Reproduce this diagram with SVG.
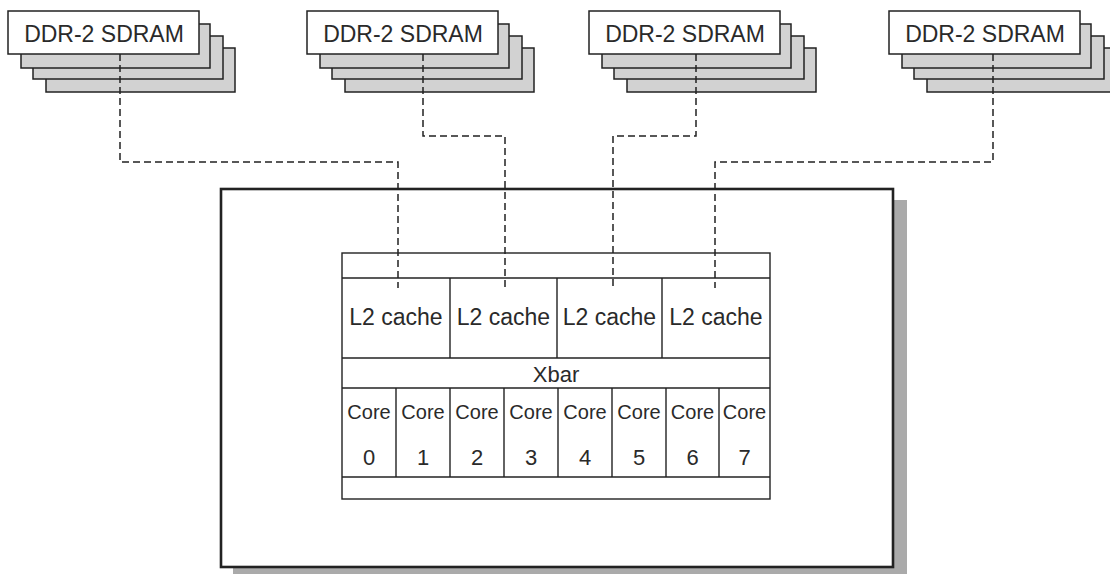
<svg xmlns="http://www.w3.org/2000/svg" width="1110" height="574" viewBox="0 0 1110 574">
<style>
.card{fill:#d2d2d2;stroke:#222;stroke-width:1.5}
.front{fill:#fff;stroke:#222;stroke-width:1.5}
.cell{fill:#fff;stroke:#222;stroke-width:1.4}
.ln{stroke:#222;stroke-width:1.4;fill:none}
.dash{stroke:#222;stroke-width:1.5;fill:none;stroke-dasharray:7,4}
text{font-family:"Liberation Sans",Arial,sans-serif;fill:#2a2a2a;text-anchor:middle}
.t23{font-size:23px}
.t20{font-size:20px}
.t22{font-size:22px}
</style>
<rect width="1110" height="574" fill="#fff"/>

<g id="sdram1">
<rect class="card" x="46" y="48" width="189" height="44"/>
<rect class="card" x="33" y="36" width="190" height="43"/>
<rect class="card" x="21" y="24" width="189" height="44"/>
<rect class="front" x="8" y="11" width="191" height="43"/>
<text class="t23" x="104" y="42">DDR-2 SDRAM</text>
</g>
<g id="sdram2">
<rect class="card" x="345" y="48" width="189" height="44"/>
<rect class="card" x="332" y="36" width="190" height="43"/>
<rect class="card" x="320" y="24" width="189" height="44"/>
<rect class="front" x="307" y="11" width="191" height="43"/>
<text class="t23" x="403" y="42">DDR-2 SDRAM</text>
</g>
<g id="sdram3">
<rect class="card" x="627" y="48" width="189" height="44"/>
<rect class="card" x="614" y="36" width="190" height="43"/>
<rect class="card" x="602" y="24" width="189" height="44"/>
<rect class="front" x="589" y="11" width="191" height="43"/>
<text class="t23" x="685" y="42">DDR-2 SDRAM</text>
</g>
<g id="sdram4">
<rect class="card" x="927" y="48" width="189" height="44"/>
<rect class="card" x="914" y="36" width="190" height="43"/>
<rect class="card" x="902" y="24" width="189" height="44"/>
<rect class="front" x="889" y="11" width="191" height="43"/>
<text class="t23" x="985" y="42">DDR-2 SDRAM</text>
</g>

<g id="chip">
<rect x="233" y="200" width="674" height="380" fill="#aaa"/>
<rect x="221" y="189" width="672" height="378" fill="#fff" stroke="#222" stroke-width="2.6"/>
</g>

<g id="block">
<rect class="cell" x="342" y="253" width="428" height="246"/>
<line class="ln" x1="342" y1="278" x2="770" y2="278"/>
<line class="ln" x1="342" y1="358" x2="770" y2="358"/>
<line class="ln" x1="342" y1="388" x2="770" y2="388"/>
<line class="ln" x1="342" y1="477" x2="770" y2="477"/>
</g>
<g id="l2">
<line class="ln" x1="450" y1="278" x2="450" y2="358"/>
<line class="ln" x1="557" y1="278" x2="557" y2="358"/>
<line class="ln" x1="662" y1="278" x2="662" y2="358"/>
<text class="t23" x="396" y="325">L2 cache</text>
<text class="t23" x="503.5" y="325">L2 cache</text>
<text class="t23" x="609.5" y="325">L2 cache</text>
<text class="t23" x="716" y="325">L2 cache</text>
</g>
<g id="xbar">
<text class="t22" x="556" y="382">Xbar</text>
</g>
<g id="cores">
<line class="ln" x1="396" y1="388" x2="396" y2="477"/>
<line class="ln" x1="450" y1="388" x2="450" y2="477"/>
<line class="ln" x1="504" y1="388" x2="504" y2="477"/>
<line class="ln" x1="558" y1="388" x2="558" y2="477"/>
<line class="ln" x1="612" y1="388" x2="612" y2="477"/>
<line class="ln" x1="666" y1="388" x2="666" y2="477"/>
<line class="ln" x1="719" y1="388" x2="719" y2="477"/>
<text class="t20" x="369" y="419">Core</text>
<text class="t20" x="423" y="419">Core</text>
<text class="t20" x="477" y="419">Core</text>
<text class="t20" x="531" y="419">Core</text>
<text class="t20" x="585" y="419">Core</text>
<text class="t20" x="639" y="419">Core</text>
<text class="t20" x="692.5" y="419">Core</text>
<text class="t20" x="744.5" y="419">Core</text>
<text class="t22" x="369" y="465">0</text>
<text class="t22" x="423" y="465">1</text>
<text class="t22" x="477" y="465">2</text>
<text class="t22" x="531" y="465">3</text>
<text class="t22" x="585" y="465">4</text>
<text class="t22" x="639" y="465">5</text>
<text class="t22" x="692.5" y="465">6</text>
<text class="t22" x="744.5" y="465">7</text>
</g>

<g id="connectors">
<polyline class="dash" points="120,54 120,162 398,162 398,288"/>
<polyline class="dash" points="423,54 423,136 505,136 505,288"/>
<polyline class="dash" points="696,54 696,136 613,136 613,288"/>
<polyline class="dash" points="993,54 993,162 715,162 715,288"/>
</g>
</svg>
